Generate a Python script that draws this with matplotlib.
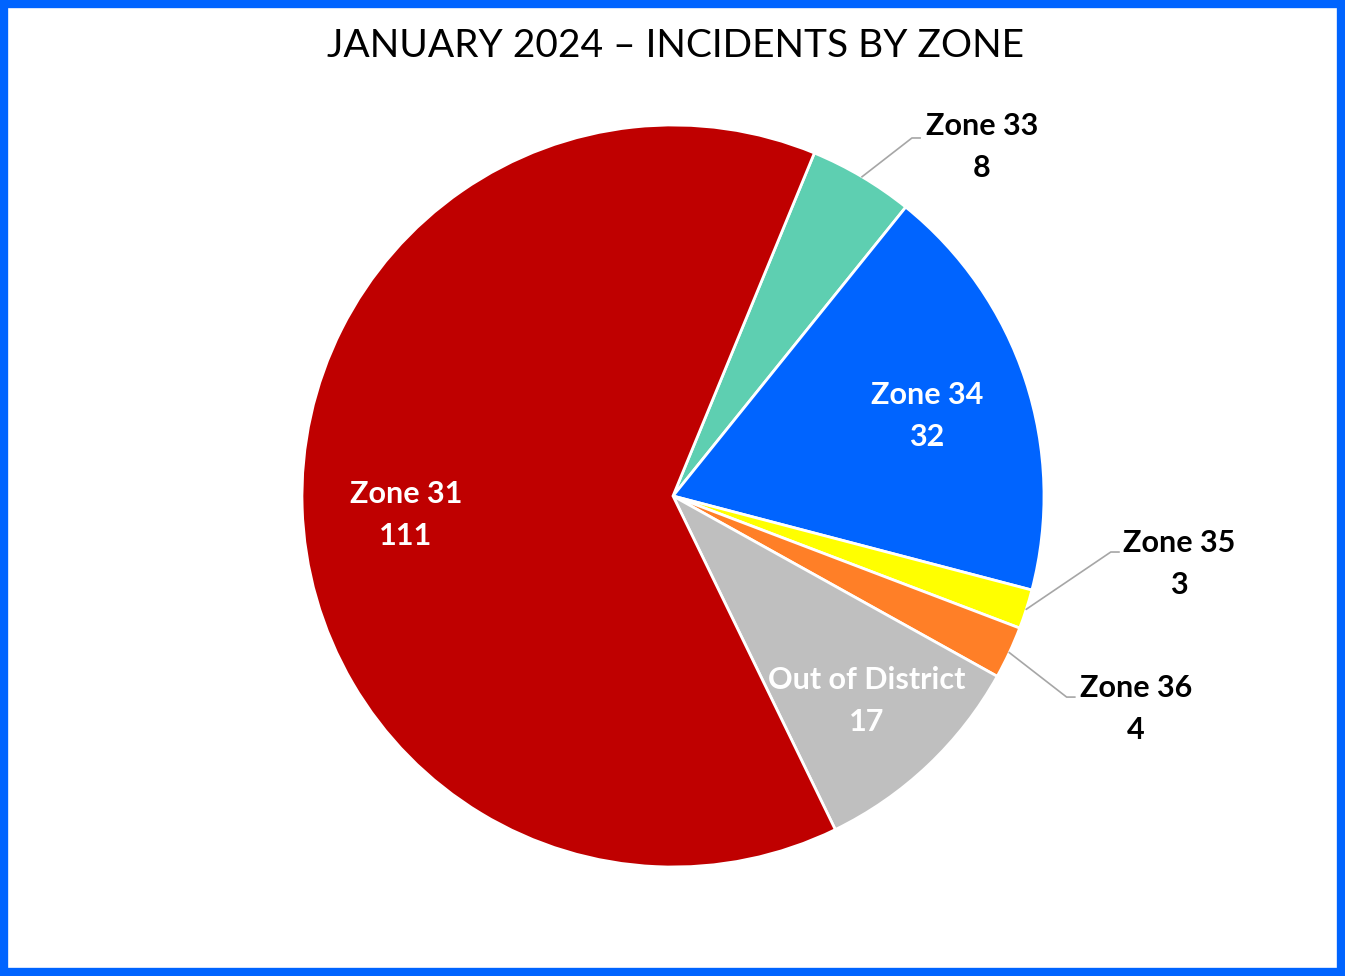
import matplotlib
matplotlib.use("Agg")
import matplotlib.pyplot as plt
import numpy as np
from matplotlib.patches import Rectangle

# incidents per zone, January 2024 (clockwise order starting at Zone 33)
zones = ['Zone 33', 'Zone 34', 'Zone 35', 'Zone 36', 'Out of District', 'Zone 31']
counts = [8, 32, 3, 4, 17, 111]
colors = ['#5ECFB1', '#0064FF', '#FFFF00', '#FF7F27', '#BFBFBF', '#BF0000']
inside = [False, True, False, False, True, True]

W, H = 1345, 976
fig = plt.figure(figsize=(W / 100, H / 100), dpi=100)
fig.patch.set_facecolor('white')

# blue frame round the whole chart
fig.patches.append(Rectangle((4 / W, 4 / H), 1 - 8 / W, 1 - 8 / H,
                             transform=fig.transFigure, fill=False,
                             edgecolor='#0064FF', linewidth=6))

cx, cy, r = 673, 496, 371
ax = fig.add_axes([(cx - r) / W, (H - cy - r) / H, 2 * r / W, 2 * r / H])

wedges, _ = ax.pie(counts, colors=colors, startangle=67.6, counterclock=False,
                   radius=1.0, wedgeprops=dict(edgecolor='white', linewidth=2))
ax.set_xlim(-1, 1)
ax.set_ylim(-1, 1)
ax.set_aspect('equal')
ax.axis('off')

lab_font = dict(family=['Lato', 'DejaVu Sans'], fontweight='bold', fontsize=22,
                ha='center', va='center', linespacing=1.6)

# inside labels: distance from centre and a small vertical nudge
in_pos = {'Zone 34': (0.72, -0.01), 'Out of District': (0.76, 0.0),
          'Zone 31': (0.72, -0.03)}
# outside labels: elbow point and text centre
out_pos = {'Zone 33': ((0.644, 0.965), (0.833, 0.94)),
           'Zone 35': ((1.180, -0.151), (1.364, -0.183)),
           'Zone 36': ((1.061, -0.542), (1.248, -0.574))}

for w, name, n, ins in zip(wedges, zones, counts, inside):
    mid = np.deg2rad((w.theta1 + w.theta2) / 2)
    text = f'{name}\n{n}'
    if ins:
        d, dy = in_pos[name]
        ax.text(d * np.cos(mid), d * np.sin(mid) + dy, text, color='white',
                **lab_font)
    else:
        (ex, ey), (tx, ty) = out_pos[name]
        sx, sy = 1.0 * np.cos(mid), 1.0 * np.sin(mid)
        ax.plot([sx, ex, ex + 0.022], [sy, ey, ey], color='#A6A6A6', lw=1.2,
                clip_on=False)
        ax.text(tx, ty, text, color='black', **lab_font)

fig.text(0.5025, 1 - 46 / H, 'JANUARY 2024 – INCIDENTS BY ZONE',
         family=['Lato', 'DejaVu Sans'], fontsize=28, color='black',
         ha='center', va='center')

fig.savefig('out.png', dpi=100, facecolor='white')
